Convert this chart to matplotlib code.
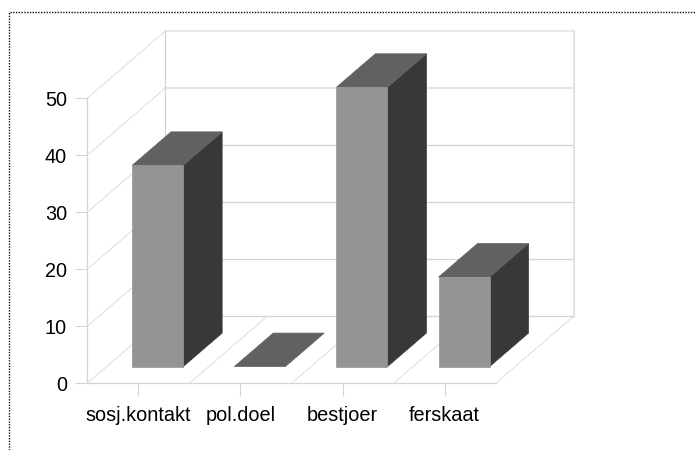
"""
Pseudo-3D bar chart with grey bars and a dotted frame.
"""

import matplotlib
matplotlib.use('Agg')
import matplotlib.pyplot as plt
import numpy as np
from matplotlib.lines import Line2D
from matplotlib.patches import Polygon

# Values
categories = ['sosj.kontakt', 'pol.doel', 'bestjoer', 'ferskaat']
values = [35.3, 0, 49, 15.7]
y_ticks = [0, 10, 20, 30, 40, 50]

W, H = 695, 450
DEPTH_X = 0.762   # full depth of the box, in categories
DEPTH_Y = 11.75   # full depth of the box, in value units
BAR_WIDTH = 0.5

GRID = '#d4d4d4'
FLOOR = '#dedede'
PALE = '#e4e4e4'
FRONT = '#949494'
TOP = '#616161'
SIDE = '#383838'


def depth(x, y, frac):
    """Shift a point of the front plane back into the box."""
    return (x + frac * DEPTH_X, y + frac * DEPTH_Y)


def draw_line(ax, p0, p1, color=GRID, lw=0.9):
    ax.plot(*zip(p0, p1), color=color, lw=lw, zorder=1, clip_on=False)


def draw_box(ax, n, ymax):
    back = lambda x, y: depth(x, y, 1)

    # back wall
    for v in y_ticks:
        col, lw = GRID, 0.9
        if v == 40:
            col, lw = PALE, 1.5
        if v == ymax:
            col, lw = PALE, 1.2
        draw_line(ax, back(0, v), back(n, v), col, lw)
    draw_line(ax, back(0, 0), back(0, ymax))
    draw_line(ax, back(n, 0), back(n, ymax), PALE, 1.5)

    # left wall
    draw_line(ax, (0, 0), (0, ymax))
    for v in y_ticks:
        draw_line(ax, (0, v), back(0, v), FLOOR, 0.7)

    # floor
    draw_line(ax, (0, 0), (n, 0))
    for i in range(1, n + 1):
        draw_line(ax, (i, 0), back(i, 0), FLOOR, 0.7)


def draw_bar(ax, i, value):
    x0 = i + 0.5 - BAR_WIDTH / 2
    x1 = i + 0.5 + BAR_WIDTH / 2
    f0, f1 = 0.25, 0.75

    side = [depth(x1, 0, f0), depth(x1, 0, f1), depth(x1, value, f1), depth(x1, value, f0)]
    top = [depth(x0, value, f0), depth(x1, value, f0), depth(x1, value, f1), depth(x0, value, f1)]
    front = [depth(x0, 0, f0), depth(x1, 0, f0), depth(x1, value, f0), depth(x0, value, f0)]

    for pts, col in [(side, SIDE), (top, TOP), (front, FRONT)]:
        if value == 0 and col != TOP:
            continue
        ax.add_patch(Polygon(pts, closed=True, facecolor=col, edgecolor=col,
                             lw=0.5, zorder=3, clip_on=False))


def main():
    plt.rcParams['font.family'] = ['Liberation Sans', 'DejaVu Sans']

    fig = plt.figure(figsize=(W / 100, H / 100), dpi=100)
    ax = fig.add_axes([87.2 / W, (H - 383.3) / H, 408.5 / W, 285 / H])

    n = len(categories)
    ax.set_xlim(0, n)
    ax.set_ylim(0, 50)
    for s in ax.spines.values():
        s.set_visible(False)

    draw_box(ax, n, 50)
    for i, v in enumerate(values):
        draw_bar(ax, i, v)

    ax.set_xticks(np.arange(n) + 0.5)
    ax.set_xticklabels(categories)
    ax.set_yticks(y_ticks)
    ax.tick_params(axis='x', length=9, width=0.8, color=GRID, labelsize=14.3, pad=7.5)
    ax.tick_params(axis='y', length=9, width=0.8, color=GRID, labelsize=14.3, pad=5.5)

    # dotted frame, open to the right and bottom
    frame = Line2D([8.5 / W, 8.5 / W, 1], [0, (H - 12) / H, (H - 12) / H],
                   transform=fig.transFigure, color='#111111', lw=1.0,
                   linestyle=(0, (1, 1)))
    fig.add_artist(frame)

    fig.savefig('out.png', dpi=100)


if __name__ == '__main__':
    main()
